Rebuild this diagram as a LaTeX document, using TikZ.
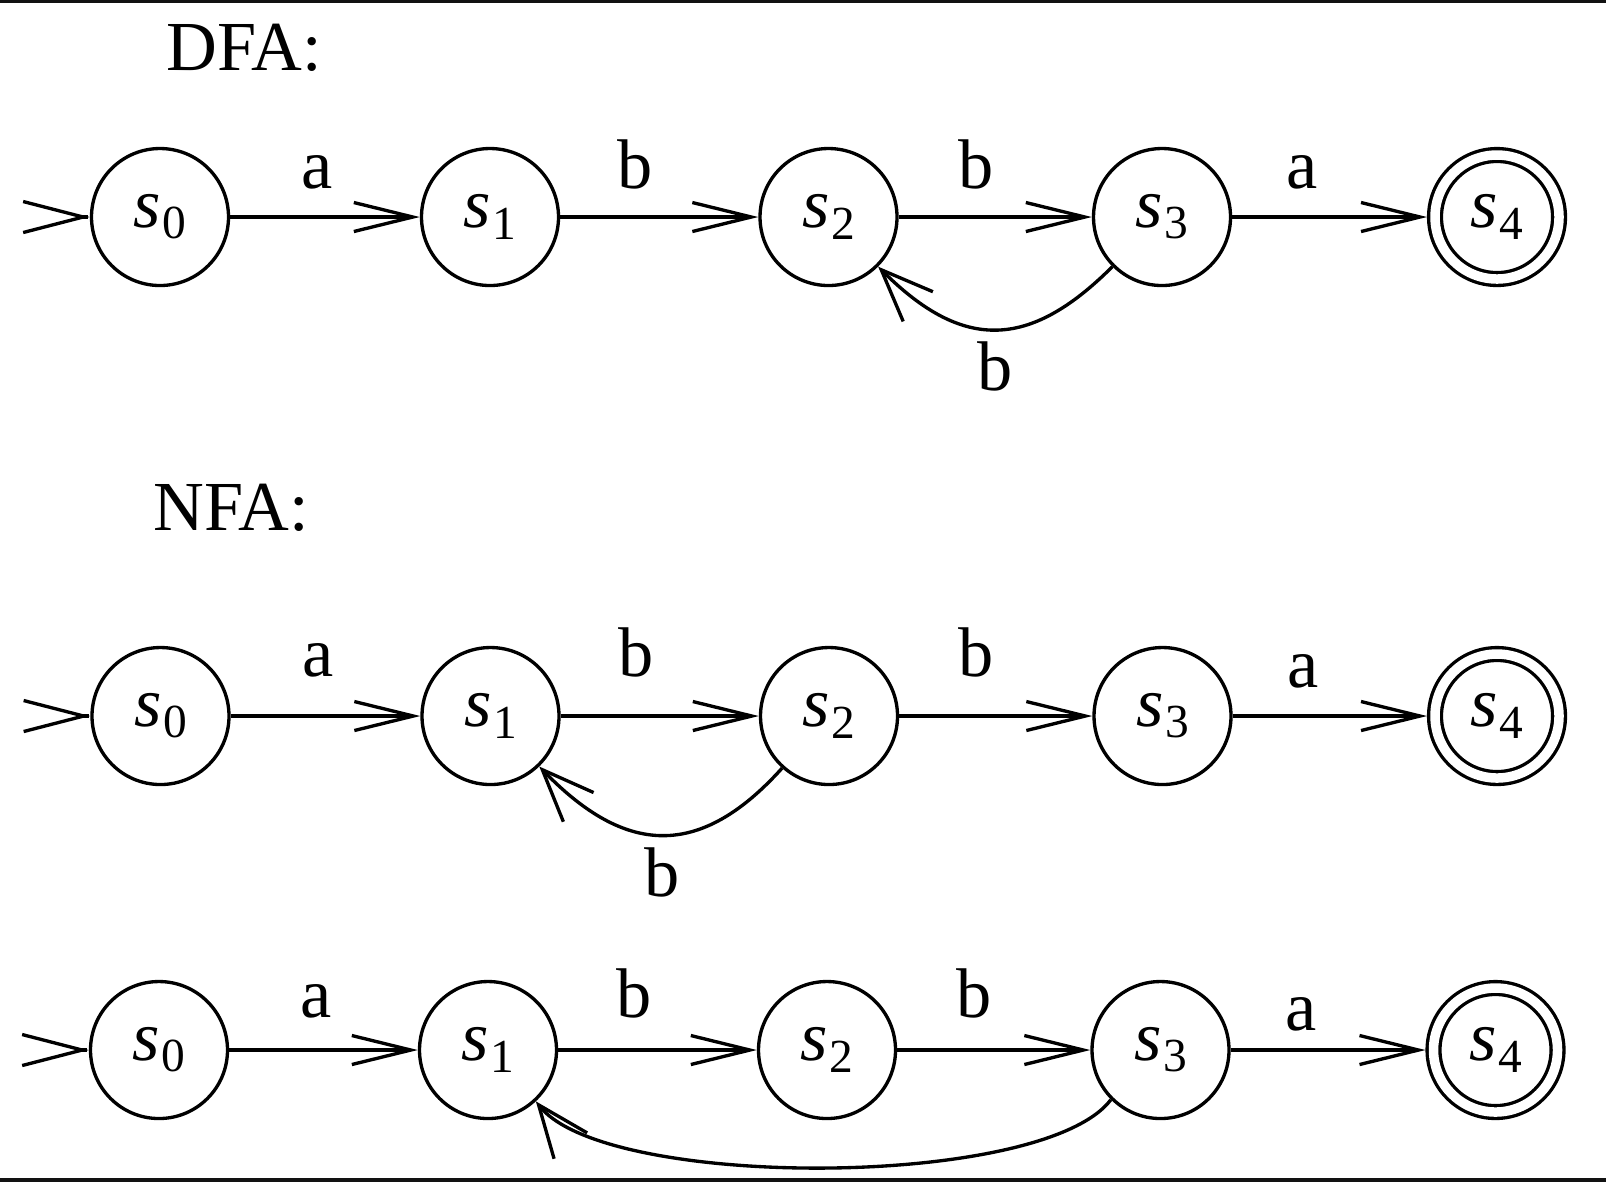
\documentclass[tikz,border=0pt]{standalone}
\usepackage{fontspec}
\setmainfont{Liberation Serif}
\usepackage{tikz}
\usetikzlibrary{arrows.meta}
\tikzset{statenode/.style={circle, draw, minimum size=1.37cm, inner sep=0pt}}
\tikzset{finalnode/.style={circle, draw, double, double distance=0.095cm, minimum size=1.24cm, inner sep=0pt, outer sep=0.08cm}}
\tikzset{backedge/.style={-{Straight Barb[length=0.52cm,width=0.42cm]}}}
\tikzset{initedge/.style={-{Straight Barb[length=0.60cm,width=0.31cm]}}}
\newcommand{\sname}[1]{\textit{s}\kern0.5pt\raisebox{-3.2pt}{\fontsize{13.5}{14}\selectfont #1}}

\begin{document}
\begin{tikzpicture}[>={Straight Barb[length=0.59cm,width=0.29cm]}, line width=0.95pt, font=\fontsize{20}{24}\selectfont]
\useasboundingbox (0,0) rectangle (16.06,-11.82);
\fill[black!93] (0,0) rectangle (16.06,-0.03);
\fill[black!93] (0,-11.78) rectangle (16.06,-11.82);
\node[anchor=base west, inner sep=0] (dfa) at (1.65,-0.70) {DFA:};
\node[anchor=base west, inner sep=0] (nfa) at (1.52,-5.30) {NFA:};
% DFA
\foreach \i/\x in {0/1.60,1/4.90,2/8.285,3/11.62}
  \node[statenode] (d\i) at (\x,-2.17) {\sname{\i}};
\node[finalnode] (d4) at (14.97,-2.17) {\sname{4}};
\coordinate (din) at (0.88,-2.17);
\draw[initedge] (din) -- (d0);
\foreach \i/\j/\sym/\p/\h in {0/1/a/0.46/7.5pt,1/2/b/0.38/7.5pt,2/3/b/0.40/7.5pt,3/4/a/0.36/7.5pt}
  \draw[->] (d\i) -- node[above, pos=\p, inner sep=\h] {\sym} (d\j);
\draw[backedge] (d3) to[out=-135, in=-45, looseness=1.3] node[below, inner sep=3pt] {b} (d2);
% NFA, first
\foreach \i/\x in {0/1.605,1/4.905,2/8.29,3/11.625}
  \node[statenode] (n\i) at (\x,-7.16) {\sname{\i}};
\node[finalnode] (n4) at (14.97,-7.16) {\sname{4}};
\coordinate (nin) at (0.885,-7.16);
\draw[initedge] (nin) -- (n0);
\foreach \i/\j/\sym/\p/\h in {0/1/a/0.46/10.5pt,1/2/b/0.38/10.5pt,2/3/b/0.40/10.5pt,3/4/a/0.36/7.5pt}
  \draw[->] (n\i) -- node[above, pos=\p, inner sep=\h] {\sym} (n\j);
\draw[backedge] (n2) to[out=-132, in=-46, looseness=1.3] node[below, inner sep=3pt] {b} (n1);
% NFA, second
\foreach \i/\x in {0/1.59,1/4.88,2/8.27,3/11.605}
  \node[statenode] (t\i) at (\x,-10.50) {\sname{\i}};
\node[finalnode] (t4) at (14.955,-10.50) {\sname{4}};
\coordinate (tin) at (0.87,-10.50);
\draw[initedge] (tin) -- (t0);
\foreach \i/\j/\sym/\p/\h in {0/1/a/0.46/8.5pt,1/2/b/0.38/8.5pt,2/3/b/0.40/8.5pt,3/4/a/0.36/5pt}
  \draw[->] (t\i) -- node[above, pos=\p, inner sep=\h] {\sym} (t\j);
\draw[backedge] (t3.-135) to[out=-127, in=-52, looseness=0.5] (t1.-47);
\end{tikzpicture}
\end{document}
